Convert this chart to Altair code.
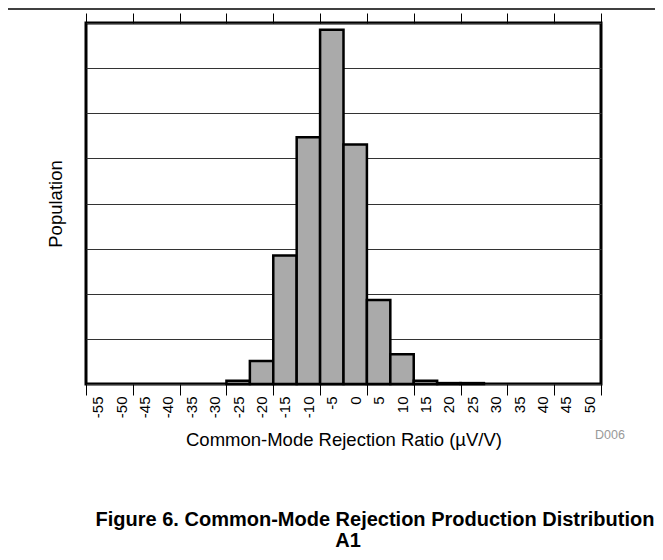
import altair as alt
import pandas as pd

# ---- data ----
bin_centers = [-55, -50, -45, -40, -35, -30, -25, -20, -15, -10, -5,
               0, 5, 10, 15, 20, 25, 30, 35, 40, 45, 50]
population = [0, 0, 0, 0, 0, 0, 7, 51, 285, 547, 785,
              531, 186, 66, 7, 2, 2, 0, 0, 0, 0, 0]
tick_values = [-57.5, -47.5, -37.5, -27.5, -17.5, -7.5, 2.5, 12.5, 22.5, 32.5, 42.5, 52.5]
grid_values = [0, 100, 200, 300, 400, 500, 600, 700, 800]
x_title = "Common-Mode Rejection Ratio (\u00b5V/V)"
y_title = "Population"
caption_1 = "Figure 6. Common-Mode Rejection Production Distribution"
caption_2 = "A1"
code_label = "D006"

df = pd.DataFrame({"center": bin_centers, "population": population})
df["lo"] = df["center"] - 2.5
df["hi"] = df["center"] + 2.5

FONT = "Liberation Sans"
xscale = alt.Scale(domain=[-57.5, 52.5], nice=False, zero=False)
yscale = alt.Scale(domain=[0, 800], nice=False)

bars = alt.Chart(df).transform_filter("datum.population > 0").mark_bar(
    fill="#aaaaaa", stroke="black", strokeWidth=2.5
).encode(
    x=alt.X("lo:Q", scale=xscale,
            axis=alt.Axis(orient="bottom", values=tick_values, labels=False,
                          tickSize=11, tickColor="black", tickWidth=1,
                          domain=False, grid=False, title=None)),
    x2="hi:Q",
    y=alt.Y("population:Q", scale=yscale,
            axis=alt.Axis(values=grid_values, labels=False, ticks=False,
                          domain=False, grid=True, gridColor="#333333",
                          gridWidth=1, title=y_title, titleFontSize=18.5,
                          titleFontWeight="normal", titleFont=FONT,
                          titlePadding=21, titleColor="black")),
    y2=alt.datum(0),
)

label_axis = alt.Chart(df).mark_point(opacity=0).encode(
    x=alt.X("center:Q", scale=xscale,
            axis=alt.Axis(orient="bottom", values=bin_centers, ticks=False,
                          domain=False, grid=False, labelAngle=-90,
                          labelPadding=12, labelFontSize=15, labelFont=FONT,
                          labelColor="black", labelExpr="'' + datum.value",
                          title=x_title, titleFontSize=18.5,
                          titleFontWeight="normal", titleFont=FONT,
                          titlePadding=13, titleColor="black")),
)

top_axis = alt.Chart(df).mark_point(opacity=0).encode(
    x=alt.X("center:Q", scale=xscale,
            axis=alt.Axis(orient="top", values=tick_values, labels=False,
                          tickSize=10, tickColor="black", tickWidth=1,
                          domain=False, grid=False, title=None)),
)

page_rule = alt.Chart(pd.DataFrame({"a": [0]})).mark_rule(
    color="black", strokeWidth=1.5
).encode(x=alt.value(-78), x2=alt.value(569), y=alt.value(-14))

cap1 = alt.Chart(pd.DataFrame({"t": [caption_1]})).mark_text(
    font=FONT, fontSize=20, fontWeight="bold", color="black", align="center", baseline="middle"
).encode(text="t:N", x=alt.value(289), y=alt.value(497))

cap2 = alt.Chart(pd.DataFrame({"t": [caption_2]})).mark_text(
    font=FONT, fontSize=20, fontWeight="bold", color="black", align="center", baseline="middle"
).encode(text="t:N", x=alt.value(262), y=alt.value(518))

code = alt.Chart(pd.DataFrame({"t": [code_label]})).mark_text(
    font=FONT, fontSize=12.5, color="#999999", align="center", baseline="middle"
).encode(text="t:N", x=alt.value(524), y=alt.value(412))

chart = alt.layer(bars, label_axis, top_axis, page_rule, cap1, cap2, code).resolve_axis(
    x="independent"
).properties(
    width=515, height=361,
    autosize=alt.AutoSizeParams(type="none"),
    padding={"left": 78, "top": 15, "right": 54, "bottom": 168},
).configure(font=FONT).configure_view(stroke="black", strokeWidth=3)

chart.save("out.html", embed_options={"renderer": "svg", "actions": False})
